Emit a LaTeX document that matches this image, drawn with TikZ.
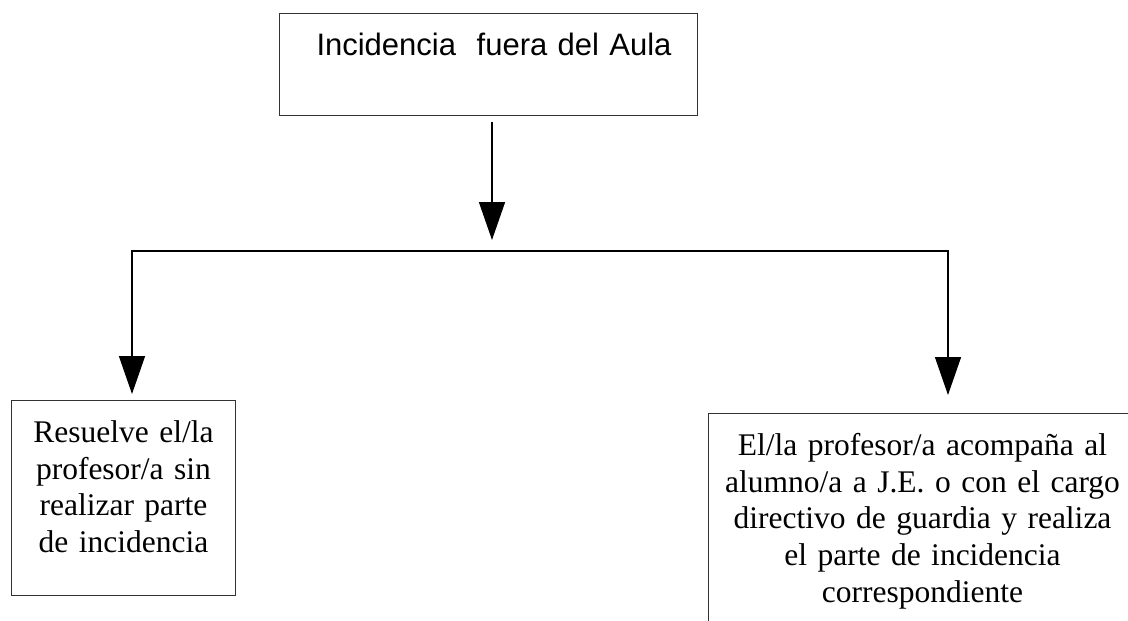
\documentclass[tikz,border=0pt]{standalone}
\usepackage{fontspec}
\setmainfont{Liberation Serif}
\setsansfont{Liberation Sans}
\usetikzlibrary{arrows.meta, positioning}

\begin{document}
\frenchspacing
\begin{tikzpicture}[
x=1pt, y=-1pt,
box/.style={draw=black!80,
line width=1pt,
rectangle,
inner ysep=0pt,
text height=42pt,
align=center,
font=\fontsize{31.5}{36.7}\selectfont},
topbox/.style={draw=black!80,
line width=1pt,
rectangle,
inner sep=0pt,
text width=418pt,
text height=42pt,
text depth=60pt,
align=left,
font=\sffamily\fontsize{31}{36}\selectfont},
arrow/.style={{Triangle[width=26pt, length=38pt]}-{Triangle[width=26pt, length=38pt]}, line width=1.5pt},
arrowend/.style={-{Triangle[width=26pt, length=38pt]}, line width=1.5pt}
]

\useasboundingbox (0,0) rectangle (1128,621);
\clip (0,0) rectangle (1128,621);

\node[topbox, anchor=north west] (incid) at (279,13) {\hspace*{37pt}Incidencia\ \ fuera del Aula};
\node[box, anchor=north west, text width=200pt, inner xsep=12pt, text depth=153pt] (resuelve) at (11,400)
{Resuelve el/la\\ profesor/a sin\\ realizar parte\\ de incidencia};
\node[box, anchor=north west, text width=424pt, inner xsep=2pt, text depth=200pt] (acompana) at (708,413)
{El/la profesor/a acompaña al\\ alumno/a a J.E. o con el cargo\\ directivo de guardia y realiza\\ el parte de incidencia\\ correspondiente};

\coordinate (fork) at (492,240);
\coordinate (barL) at (132,251);
\coordinate (barR) at (948,251);

\draw[arrowend] ([yshift=-6pt]incid.south -| fork) -- (fork);
\draw[arrow] ([yshift=6pt]resuelve.north -| barL) -- (barL) -- (barR) -- ([yshift=18pt]acompana.north -| barR);

\end{tikzpicture}
\end{document}
